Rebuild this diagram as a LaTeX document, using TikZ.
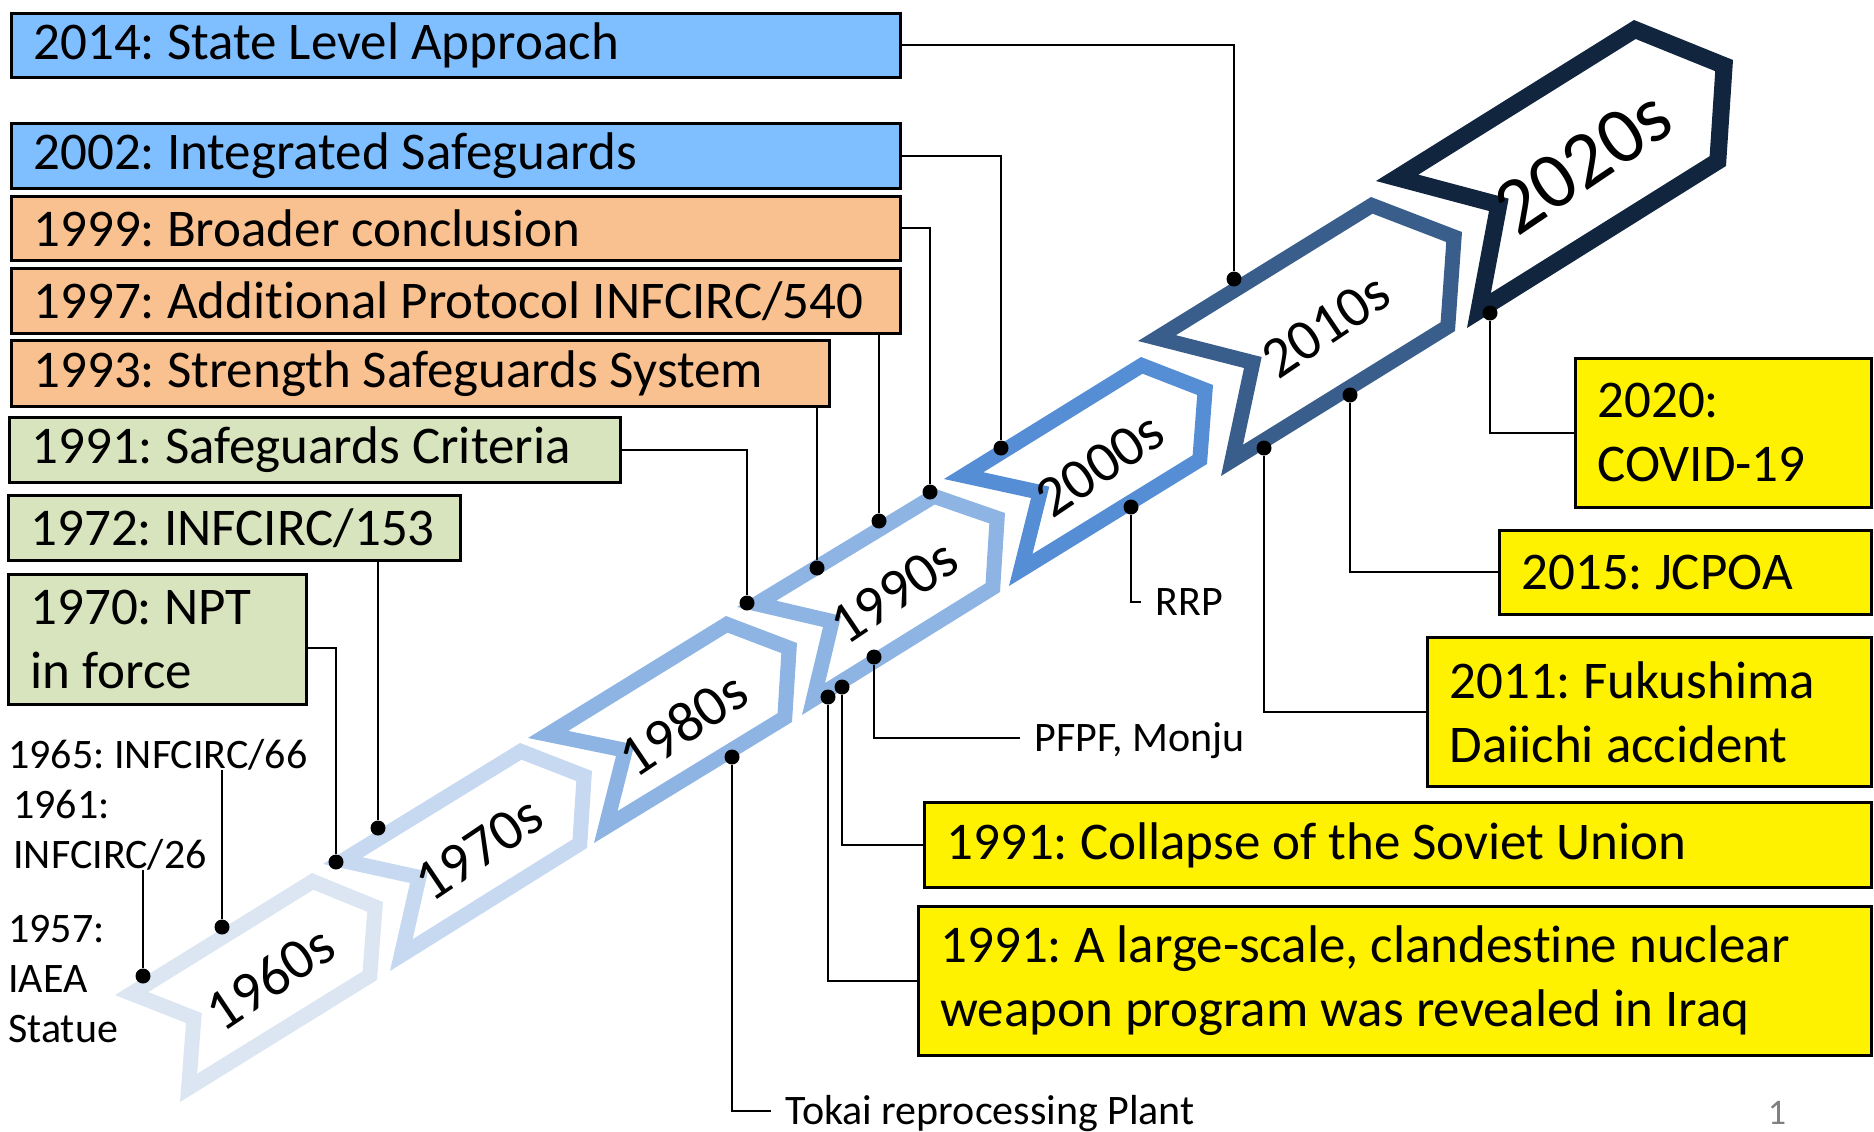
\documentclass[tikz,border=0pt]{standalone}
\usepackage{fontspec}
\setmainfont{Carlito}[Ligatures=NoCommon]
\usepackage{tikz}
\usetikzlibrary{calc}

\definecolor{sgblue}{HTML}{80BFFF}
\definecolor{sgorange}{HTML}{F9C18F}
\definecolor{sggreen}{HTML}{D8E4BE}
\definecolor{c60}{HTML}{DCE6F2}
\definecolor{c70}{HTML}{C6D9F1}
\definecolor{c80}{HTML}{8EB4E3}
\definecolor{c00}{HTML}{558ED5}
\definecolor{c10}{HTML}{3A5E8C}
\definecolor{c20}{HTML}{11253F}

\newcommand{\decadeband}[3]{%
  \begin{scope}
    \clip #3 -- cycle;
    \draw[#1, line width=#2, line join=miter] #3 -- cycle;
  \end{scope}}
\newcommand{\plainspaces}{\spaceskip=0pt\xspaceskip=0pt\frenchspacing\hyphenpenalty=10000\exhyphenpenalty=10000\relax}

\begin{document}
\begin{tikzpicture}[x=0.5pt,y=-0.5pt,
  evt/.style={draw, line width=1.4pt, anchor=north west, inner xsep=11pt, inner ysep=0pt, align=flush left, font=\fontsize{26.5}{32}\selectfont\plainspaces},
  dot/.style={circle, fill=black, inner sep=0pt, minimum size=7.5pt},
  lbl/.style={inner sep=0pt, align=flush left, font=\fontsize{21}{25}\selectfont\plainspaces},
  tag/.style={lbl, anchor=west, inner xsep=7pt, text height=13pt, text depth=0pt},
  decade/.style={font=\fontsize{29}{34}\selectfont, rotate=34},
  link/.style={line width=1pt}
  ]

  \useasboundingbox (0,0) rectangle (1874,1131);

  % decade chevrons
  \decadeband{c60}{15pt}{(115,995) -- (312,873) -- (383,902) -- (377,980) -- (180,1102) -- (186,1023)}
  \decadeband{c70}{15pt}{(323,864) -- (520,743) -- (592,771) -- (587,848) -- (390,971) -- (410,883)}
  \decadeband{c80}{15pt}{(528,738) -- (726,616) -- (797,643) -- (792,722) -- (594,843) -- (616,756)}
  \decadeband{c80}{15pt}{(737,607) -- (933,488) -- (1005,513) -- (1000,592) -- (802,715) -- (823,627)}
  \decadeband{c00}{15pt}{(944,479) -- (1141,357) -- (1213,385) -- (1207,464) -- (1009,586) -- (1031,498)}
  \decadeband{c10}{15pt}{(1138,341) -- (1371,197) -- (1462,232) -- (1455,331) -- (1221,476) -- (1244,368)}
  \decadeband{c20}{17pt}{(1376,181) -- (1634,20) -- (1733,60) -- (1726,166) -- (1467,328) -- (1489,211)}

  \node[decade] (l60) at (270,978) {1960s};
  \node[decade] (l70) at (479,849) {1970s};
  \node[decade] (l80) at (683,724) {1980s};
  \node[decade] (l90) at (894,592) {1990s};
  \node[decade] (l00) at (1100,465) {2000s};
  \node[decade] (l10) at (1326,326) {2010s};
  \node[decade, font=\fontsize{40}{46}\selectfont] (l20) at (1583,162) {2020s};

  % events above the line
  \node[evt, fill=sgblue, text width=422.5pt, minimum height=32pt] (b2014) at (10,12) {2014: State Level Approach};
  \node[evt, fill=sgblue, text width=422.5pt, minimum height=32.5pt] (b2002) at (10,122) {2002: Integrated Safeguards};
  \node[evt, fill=sgorange, text width=422.5pt, minimum height=32pt] (b1999) at (10,195) {1999: Broader conclusion};
  \node[evt, fill=sgorange, text width=422.5pt, minimum height=32.5pt] (b1997) at (10,267) {1997: Additional Protocol INFCIRC/540};
  \node[evt, fill=sgorange, text width=387pt, minimum height=33pt] (b1993) at (10,339) {1993: Strength Safeguards System};
  \node[evt, fill=sggreen, text width=283.5pt, minimum height=32.5pt] (b1991c) at (8,416) {1991: Safeguards Criteria};
  \node[evt, fill=sggreen, text width=204pt, minimum height=32.5pt] (b1972) at (7,494) {1972: INFCIRC/153};
  \node[evt, fill=sggreen, text width=127pt, minimum height=65pt] (b1970) at (7,573) {1970: NPT\\in force};

  \node[lbl, anchor=base west] (t1965) at (8,768) {1965: INFCIRC/66};
  \node[lbl, anchor=base west, text width=110pt] (t1961) at (13,818) {1961:\\INFCIRC/26};
  \node[lbl, anchor=base west, text width=70pt] (t1957) at (8,942) {1957:\\IAEA\\Statue};

  % events below the line
  \node[evt, fill=yellow, text width=126pt, minimum height=74.5pt] (b2020) at (1574,357) {2020:\\COVID-19};
  \node[evt, fill=yellow, text width=164pt, minimum height=42pt] (b2015) at (1498,529) {2015: JCPOA};
  \node[evt, fill=yellow, text width=200pt, minimum height=74.5pt] (b2011) at (1426,636) {2011: Fukushima\\Daiichi accident};
  \node[evt, fill=yellow, text width=451.5pt, minimum height=42.5pt] (b1991s) at (923,801) {1991: Collapse of the Soviet Union};
  \node[evt, fill=yellow, text width=454.5pt, minimum height=74.5pt] (b1991i) at (917,905) {1991: A large-scale, clandestine nuclear\\weapon program was revealed in Iraq};

  \node[tag] (rrp) at (1141,602) {RRP};
  \node[tag] (pfpf) at (1020,738) {PFPF, Monju};
  \node[tag] (tokai) at (771,1111) {Tokai reprocessing Plant};

  \node[font=\fontsize{18}{20}\selectfont, text=gray] (pg) at (1777,1113) {1};

  % markers on the chevrons
  \node[dot] (d1957) at (143,976) {};
  \node[dot] (d1965) at (222,927) {};
  \node[dot] (d1970) at (336,862) {};
  \node[dot] (d1972) at (378,828) {};
  \node[dot] (d1991c) at (747,603) {};
  \node[dot] (d1993) at (817,568) {};
  \node[dot] (d1997) at (879,521) {};
  \node[dot] (d1999) at (930,492) {};
  \node[dot] (d2002) at (1001,448) {};
  \node[dot] (d2014) at (1234,279) {};
  \node[dot] (d2020) at (1490,313) {};
  \node[dot] (d2015) at (1350,395) {};
  \node[dot] (d2011) at (1264,448) {};
  \node[dot] (dRRP) at (1131,507) {};
  \node[dot] (dPFPF) at (874,657) {};
  \node[dot] (d1991s) at (842,687) {};
  \node[dot] (d1991i) at (828,697) {};
  \node[dot] (dTokai) at (732,757) {};

  \draw[link] (b2014.east) -| (d2014);
  \draw[link] (b2002.east) -| (d2002);
  \draw[link] (b1999.east) -| (d1999);
  \draw[link] (d1997) -- (d1997 |- b1997.south);
  \draw[link] (d1993) -- (d1993 |- b1993.south);
  \draw[link] (b1991c.east) -| (d1991c);
  \draw[link] (d1972) -- (d1972 |- b1972.south);
  \draw[link] ([yshift=-4.5pt]b1970.east) -| (d1970);
  \draw[link] (d1965) -- (d1965 |- t1965.south);
  \draw[link] (d1957) -- (d1957 |- t1961.south);

  \draw[link] (d2020) |- (b2020.west);
  \draw[link] (d2015) |- (b2015.west);
  \draw[link] (d2011) |- (b2011.west);
  \draw[link] (d1991s) |- (b1991s.west);
  \draw[link] (d1991i) |- (b1991i.west);
  \draw[link] (dRRP) |- (rrp.west);
  \draw[link] (dPFPF) |- (pfpf.west);
  \draw[link] (dTokai) |- (tokai.west);

\end{tikzpicture}
\end{document}
